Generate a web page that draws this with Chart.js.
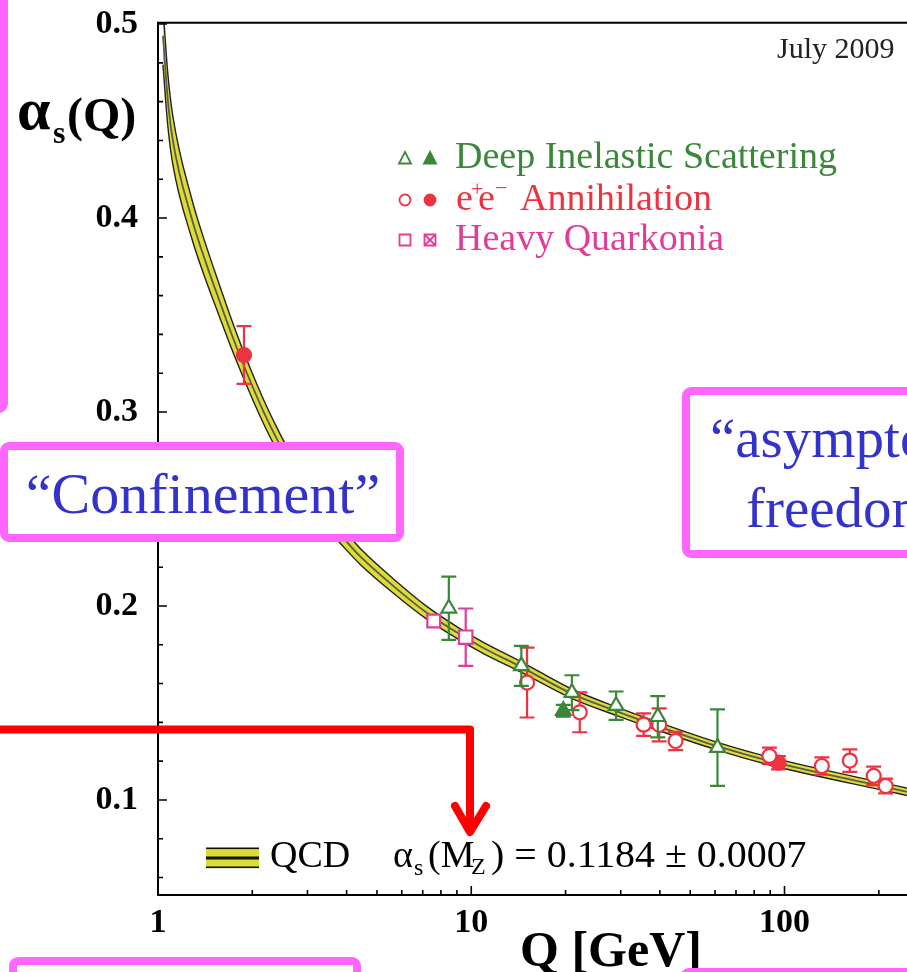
<!DOCTYPE html>
<html>
<head>
<meta charset="utf-8">
<script src="https://cdn.jsdelivr.net/npm/chart.js@4/dist/chart.umd.min.js"></script>
<style>
html, body { margin: 0; padding: 0; background: #fff; overflow: hidden; }
canvas { display: block; }
</style>
</head>
<body>
<canvas id="alphaChart" width="942" height="972"></canvas>
<script>
'use strict';
// QCD band (centre and half width)
let curveQ = [1.037, 1.075, 1.115, 1.28, 1.438, 1.568, 1.712, 1.887, 2.175, 2.425, 3.016, 3.973, 4.43, 5.67, 7.21, 9.17, 10.9, 14.45, 20.92, 29.0, 40.3, 61.1, 88.4, 230.6, 292];
let curveAlpha = [0.494, 0.4608, 0.4402, 0.400, 0.3747, 0.3577, 0.3407, 0.3232, 0.300, 0.2845, 0.257, 0.2337, 0.2254, 0.21, 0.1965, 0.1855, 0.1785, 0.1685, 0.1548, 0.1458, 0.1375, 0.1277, 0.1203, 0.1052, 0.1015];
let curveHalf = [0.015, 0.0135, 0.0125, 0.0102, 0.009, 0.0082, 0.0075, 0.0068, 0.0062, 0.0058, 0.0051, 0.0044, 0.0041, 0.0037, 0.0033, 0.003, 0.0029, 0.0027, 0.0024, 0.0022, 0.0021, 0.002, 0.002, 0.0019, 0.0019];

// measurements
let disOpenQ = [8.48, 14.45, 20.96, 29.0, 39.4, 61.1];
let disOpenA = [0.1988, 0.1691, 0.1553, 0.1486, 0.1429, 0.127];
let disOpenErr = [0.0163, 0.0103, 0.009, 0.0073, 0.0106, 0.0197];
let disFullQ = [19.67];
let disFullA = [0.146];
let disFullErr = [0.003];

let eeOpenQ = [15.07, 22.2, 35.5, 39.8, 44.9, 89.5, 131.6, 161.6, 192.6, 210.3];
let eeOpenA = [0.1605, 0.1452, 0.1388, 0.1387, 0.1304, 0.1227, 0.1175, 0.1203, 0.1124, 0.1072];
let eeOpenErr = [0.018, 0.0103, 0.0058, 0.0085, 0.0047, 0.0043, 0.0045, 0.0058, 0.0048, 0.0038];
let eeFullQ = [1.881, 95.6];
let eeFullA = [0.3294, 0.1192];
let eeFullErr = [0.0149, 0.0034];

let hqOpenQ = [9.6];
let hqOpenA = [0.1839];
let hqOpenErr = [0.0148];
let hqCrossQ = [7.59];
let hqCrossA = [0.1923];
let hqCrossErr = [0.003];

let xTicks = [1, 2, 3, 4, 5, 6, 7, 8, 9, 10, 20, 30, 40, 50, 60, 70, 80, 90, 100, 200];
let xLabels = [1, 10, 100];
let yTicks = [0.06, 0.08, 0.1, 0.12, 0.14, 0.16, 0.18, 0.2, 0.22, 0.24, 0.26, 0.28, 0.3, 0.32, 0.34, 0.36, 0.38, 0.4, 0.42, 0.44, 0.46, 0.48, 0.5];
let yLabels = [0.1, 0.2, 0.3, 0.4, 0.5];

let green = '#3a873a';
let red = '#ee3340';
let pink = '#e23c98';
let yellow = '#dcdc34';
let boxPink = '#ff66ff';
let noteBlue = '#3333cc';
let serif = "'Liberation Serif', 'Times New Roman', serif";

function toPoints(qs, as) {
    return qs.map((q, i) => ({x: q, y: as[i]}));
}

function markSet(qs, as, errs, style, radius, color, filled) {
    return {
        data: toPoints(qs, as),
        err: errs,
        showLine: false,
        pointStyle: style,
        pointRadius: radius,
        pointBorderWidth: 2.2,
        pointBorderColor: color,
        pointBackgroundColor: filled ? color : '#fff',
        borderColor: color,
        order: 0
    };
}

let upperBand = curveQ.map((q, i) => ({x: q, y: curveAlpha[i] + curveHalf[i]}));
let lowerBand = curveQ.map((q, i) => ({x: q, y: curveAlpha[i] - curveHalf[i]}));

let bandLine = {showLine: true, pointRadius: 0, cubicInterpolationMode: 'monotone'};

let datasets = [
    markSet(disOpenQ, disOpenA, disOpenErr, 'triangle', 8.5, green, false),
    markSet(disFullQ, disFullA, disFullErr, 'triangle', 8.5, green, true),
    markSet(eeOpenQ, eeOpenA, eeOpenErr, 'circle', 7, red, false),
    markSet(eeFullQ, eeFullA, eeFullErr, 'circle', 7, red, true),
    markSet(hqOpenQ, hqOpenA, hqOpenErr, 'rect', 9.5, pink, false),
    markSet(hqCrossQ, hqCrossA, hqCrossErr, 'rect', 9, pink, false),
    Object.assign(markSet(hqCrossQ, hqCrossA, null, 'crossRot', 9, pink, false), {pointBackgroundColor: 'rgba(0,0,0,0)'}),
    Object.assign({data: upperBand, borderColor: '#222', borderWidth: 1.4, backgroundColor: yellow, fill: '+1', order: 7}, bandLine),
    Object.assign({data: lowerBand, borderColor: '#222', borderWidth: 1.4, fill: false, order: 6}, bandLine),
    Object.assign({data: toPoints(curveQ, curveAlpha), borderColor: '#5a5a5a', borderWidth: 1.8, fill: false, order: 5}, bandLine)
];

// error bars go down just before their markers
let errorBars = {
    id: 'errorBars',
    beforeDatasetDraw(chart, args) {
        let ds = chart.data.datasets[args.index];
        if (!ds.err) return;
        let ctx = chart.ctx;
        let xs = chart.scales.x;
        let ys = chart.scales.y;
        ctx.save();
        ctx.strokeStyle = ds.borderColor;
        ctx.lineWidth = 2.2;
        ds.data.forEach((p, i) => {
            let x = xs.getPixelForValue(p.x);
            let top = ys.getPixelForValue(p.y + ds.err[i]);
            let bot = ys.getPixelForValue(p.y - ds.err[i]);
            ctx.beginPath();
            ctx.moveTo(x, top); ctx.lineTo(x, bot);
            ctx.moveTo(x - 7.5, top); ctx.lineTo(x + 7.5, top);
            ctx.moveTo(x - 7.5, bot); ctx.lineTo(x + 7.5, bot);
            ctx.stroke();
        });
        ctx.restore();
    }
};

function say(ctx, s, x, y, size, color, opts) {
    opts = opts || {};
    ctx.save();
    ctx.font = (opts.bold ? 'bold ' : '') + size + 'px ' + serif;
    ctx.fillStyle = color;
    ctx.textAlign = opts.align || 'left';
    ctx.textBaseline = 'alphabetic';
    ctx.translate(x, y);
    ctx.scale(opts.sx || 1, 1);
    ctx.fillText(s, 0, 0);
    ctx.restore();
}

function marker(ctx, style, x, y, color, filled) {
    ctx.save();
    ctx.strokeStyle = color;
    ctx.fillStyle = filled ? color : '#fff';
    ctx.lineWidth = 1.8;
    ctx.beginPath();
    if (style === 'triangle') {
        ctx.moveTo(x, y - 7);
        ctx.lineTo(x + 6, y + 4.5);
        ctx.lineTo(x - 6, y + 4.5);
        ctx.closePath();
    } else if (style === 'circle') {
        ctx.arc(x, y, 5.5, 0, Math.PI * 2);
    } else {
        ctx.rect(x - 5.5, y - 5.5, 11, 11);
    }
    ctx.fill();
    ctx.stroke();
    if (style === 'cross') {
        ctx.beginPath();
        ctx.moveTo(x - 5.5, y - 5.5); ctx.lineTo(x + 5.5, y + 5.5);
        ctx.moveTo(x + 5.5, y - 5.5); ctx.lineTo(x - 5.5, y + 5.5);
        ctx.stroke();
    }
    ctx.restore();
}

function pinkBox(ctx, x, y, w, h) {
    ctx.save();
    ctx.fillStyle = '#fff';
    ctx.strokeStyle = boxPink;
    ctx.lineWidth = 8;
    ctx.beginPath();
    ctx.roundRect(x, y, w, h, 5);
    ctx.fill();
    ctx.stroke();
    ctx.restore();
}

let decorations = {
    id: 'decorations',
    afterDraw(chart) {
        let ctx = chart.ctx;
        let area = chart.chartArea;
        let xs = chart.scales.x;
        let ys = chart.scales.y;

        // frame top and inward ticks
        ctx.save();
        ctx.strokeStyle = '#000';
        ctx.lineWidth = 2;
        ctx.beginPath();
        ctx.moveTo(area.left - 1, area.top);
        ctx.lineTo(area.right, area.top);
        ctx.stroke();
        ctx.lineWidth = 1.6;
        ctx.beginPath();
        xTicks.forEach(v => {
            let x = xs.getPixelForValue(v);
            let len = xLabels.includes(v) ? 9 : 5;
            ctx.moveTo(x, area.bottom);
            ctx.lineTo(x, area.bottom - len);
        });
        yTicks.forEach(v => {
            let y = ys.getPixelForValue(v);
            let len = yLabels.includes(v) ? 9 : 5;
            ctx.moveTo(area.left, y);
            ctx.lineTo(area.left + len, y);
        });
        ctx.stroke();
        ctx.restore();

        // axis titles
        say(ctx, 'α', 17, 129, 60, '#000', {bold: true});
        say(ctx, 's', 53, 143, 32, '#000', {bold: true});
        say(ctx, '(Q)', 67, 131, 48, '#000', {bold: true});
        say(ctx, 'Q [GeV]', 520, 966, 50, '#000', {bold: true});

        say(ctx, 'July 2009', 777, 58, 30, '#222');

        // legend
        marker(ctx, 'triangle', 405, 159, green, false);
        marker(ctx, 'triangle', 430, 159, green, true);
        say(ctx, 'Deep Inelastic Scattering', 455, 168, 38, green);
        marker(ctx, 'circle', 405, 200, red, false);
        marker(ctx, 'circle', 430, 200, red, true);
        say(ctx, 'e', 456, 210, 38, red);
        say(ctx, '+', 471, 196, 22, red);
        say(ctx, 'e', 478, 210, 38, red);
        say(ctx, '\u2212', 495, 195, 22, red);
        say(ctx, 'Annihilation', 520, 210, 38, red);
        marker(ctx, 'rect', 405, 240, pink, false);
        marker(ctx, 'cross', 430, 240, pink, false);
        say(ctx, 'Heavy Quarkonia', 455, 250, 38, pink);

        // QCD key
        ctx.save();
        ctx.fillStyle = yellow;
        ctx.fillRect(206, 848, 53, 20);
        ctx.fillStyle = '#111';
        ctx.fillRect(206, 847.5, 53, 1.6);
        ctx.fillRect(206, 856.5, 53, 3);
        ctx.fillRect(206, 866.5, 53, 1.6);
        ctx.restore();
        say(ctx, 'QCD', 270, 867, 38, '#000');
        say(ctx, 'α', 393, 867, 38, '#000');
        say(ctx, 's', 414, 875, 24, '#000');
        say(ctx, '(M', 428, 867, 38, '#000');
        say(ctx, 'Z', 471, 874, 24, '#000');
        say(ctx, ') = 0.1184 \u00b1 0.0007', 491, 867, 38, '#000', {sx: 1.05});

        // slide annotations
        pinkBox(ctx, -60, -60, 64, 469);
        pinkBox(ctx, 4, 446, 396, 92);
        say(ctx, '\u201cConfinement\u201d', 203, 513, 58, noteBlue, {align: 'center'});
        pinkBox(ctx, 686, 391, 420, 163);
        say(ctx, '\u201casymptotic', 710, 457, 57, noteBlue);
        say(ctx, 'freedom\u201d', 746, 527, 57, noteBlue);
        pinkBox(ctx, 13, 961, 344, 100);
        pinkBox(ctx, 684, 972, 420, 100);

        // red arrow
        ctx.save();
        ctx.strokeStyle = '#ff0000';
        ctx.lineWidth = 8;
        ctx.lineJoin = 'round';
        ctx.lineCap = 'round';
        ctx.beginPath();
        ctx.moveTo(-10, 729.5);
        ctx.lineTo(470, 729.5);
        ctx.lineTo(470, 830);
        ctx.stroke();
        ctx.beginPath();
        ctx.moveTo(455, 806);
        ctx.lineTo(470, 832);
        ctx.lineTo(486, 806);
        ctx.stroke();
        ctx.restore();
    }
};

let tickFont = {family: serif, size: 34, weight: 'bold'};

function noOverhang(s) {
    s.paddingLeft = 0;
    s.paddingRight = 0;
    s.paddingTop = 0;
    s.paddingBottom = 0;
}

new Chart(document.getElementById('alphaChart'), {
    type: 'line',
    data: {datasets: datasets},
    options: {
        responsive: false,
        animation: false,
        devicePixelRatio: 1,
        events: [],
        layout: {padding: {top: 22.7, left: 0, right: 2.5, bottom: 0}},
        plugins: {legend: {display: false}, tooltip: {enabled: false}},
        scales: {
            x: {
                type: 'logarithmic',
                min: 1,
                max: 292,
                afterBuildTicks: s => { s.ticks = xTicks.map(v => ({value: v})); },
                afterFit: s => { s.height = 77; noOverhang(s); },
                grid: {display: false, drawTicks: false},
                border: {display: true, color: '#000', width: 2},
                ticks: {
                    autoSkip: false,
                    maxRotation: 0,
                    minRotation: 0,
                    padding: 8,
                    color: '#000',
                    font: tickFont,
                    callback: v => xLabels.includes(v) ? String(v) : ''
                }
            },
            y: {
                type: 'linear',
                min: 0.051,
                max: 0.5007,
                afterBuildTicks: s => { s.ticks = yTicks.map(v => ({value: v})); },
                afterFit: s => { s.width = 158; noOverhang(s); },
                grid: {display: false, drawTicks: false},
                border: {display: true, color: '#000', width: 2},
                ticks: {
                    autoSkip: false,
                    padding: 20,
                    color: '#000',
                    font: tickFont,
                    callback: v => yLabels.includes(v) ? v.toFixed(1) : ''
                }
            }
        }
    },
    plugins: [errorBars, decorations]
});
</script>
</body>
</html>
